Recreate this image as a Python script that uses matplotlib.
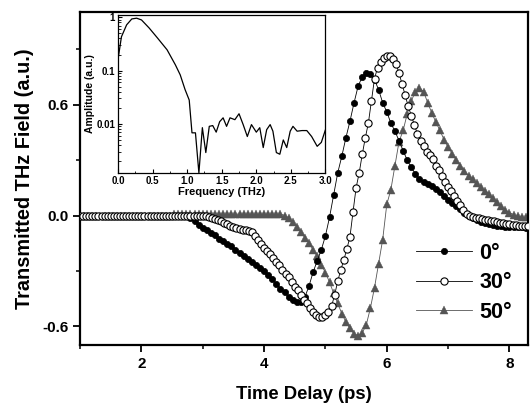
import numpy as np
import matplotlib
matplotlib.use("Agg")
import matplotlib.pyplot as plt
from matplotlib.ticker import MultipleLocator, FixedLocator, NullFormatter, LogLocator

plt.rcParams['font.family'] = ['Liberation Sans', 'DejaVu Sans']
plt.rcParams['font.weight'] = 'bold'

# ---------------- data ----------------
# time grid for 0 deg and 50 deg scans (step 1/15 ps)
t_a = np.round(1.0 + np.arange(110) / 15.0, 4)
# time grid for 30 deg scan (step 0.05 ps)
t_b = np.round(1.0 + np.arange(147) * 0.05, 4)

field_0 = [0.0] * 26 + [
    -0.005, -0.015, -0.03, -0.05, -0.068, -0.08, -0.095, -0.108, -0.125, -0.14,
    -0.152, -0.165, -0.185, -0.2, -0.218, -0.235, -0.25, -0.265, -0.285, -0.30,
    -0.32, -0.345, -0.37, -0.395, -0.415, -0.44, -0.455, -0.465, -0.465, -0.44,
    -0.38, -0.305, -0.245, -0.185, -0.11, -0.01, 0.11, 0.23, 0.32, 0.42,
    0.51, 0.61, 0.70, 0.75, 0.77, 0.765, 0.735, 0.68, 0.61, 0.56,
    0.50, 0.455, 0.405, 0.35, 0.30, 0.26, 0.225, 0.195, 0.18, 0.17,
    0.16, 0.145, 0.125, 0.105, 0.085, 0.065, 0.05, 0.035, 0.015, -0.005,
    -0.015, -0.025, -0.033, -0.04, -0.045, -0.05, -0.055, -0.055, -0.06, -0.06,
    -0.062, -0.063, -0.064, -0.065]

field_30 = [0.0] * 41 + [
    -0.003, -0.008, -0.013, -0.02, -0.025, -0.032, -0.04, -0.048, -0.055, -0.063,
    -0.07, -0.075, -0.078, -0.08, -0.082, -0.09, -0.11, -0.135, -0.155, -0.175,
    -0.19, -0.21, -0.228, -0.25, -0.27, -0.295, -0.315, -0.335, -0.36, -0.385,
    -0.405, -0.43, -0.455, -0.475, -0.5, -0.52, -0.54, -0.55, -0.548, -0.54,
    -0.52, -0.49, -0.43, -0.355, -0.295, -0.24, -0.18, -0.115, 0.02, 0.15,
    0.23, 0.33, 0.42, 0.5, 0.62, 0.74, 0.80, 0.83, 0.85, 0.86,
    0.86, 0.845, 0.82, 0.77, 0.71, 0.65, 0.59, 0.54, 0.49, 0.44,
    0.405, 0.375, 0.345, 0.325, 0.305, 0.27, 0.245, 0.215, 0.18, 0.155,
    0.13, 0.105, 0.08, 0.055, 0.03, 0.01, 0.0, -0.008, -0.012, -0.016,
    -0.02, -0.023, -0.026, -0.028, -0.032, -0.036, -0.04, -0.042, -0.045, -0.048,
    -0.05, -0.052, -0.054, -0.055, -0.056, -0.057]

field_50 = [0.0] * 23 + [0.008] * 27 + [
    0.0, -0.015, -0.035, -0.06, -0.09, -0.12, -0.15, -0.185, -0.22, -0.265,
    -0.31, -0.36, -0.42, -0.475, -0.53, -0.575, -0.61, -0.64, -0.65, -0.635,
    -0.59, -0.5, -0.39, -0.26, -0.13, 0.06, 0.14, 0.27, 0.40, 0.46,
    0.55, 0.62, 0.67, 0.69, 0.67, 0.61, 0.555, 0.505, 0.46, 0.41,
    0.37, 0.335, 0.30, 0.27, 0.24, 0.215, 0.195, 0.175, 0.155, 0.135,
    0.115, 0.095, 0.075, 0.05, 0.03, 0.015, 0.005, -0.005, -0.008, -0.01]

freq_thz = [0.0, 0.05, 0.125, 0.2, 0.27, 0.34, 0.45, 0.57, 0.71, 0.83, 0.9, 0.97,
            1.03, 1.07, 1.12, 1.17, 1.22, 1.27, 1.32, 1.37, 1.42, 1.47, 1.52, 1.57,
            1.62, 1.69, 1.75, 1.81, 1.87, 1.93, 2.0, 2.05, 2.1, 2.15, 2.2, 2.24,
            2.29, 2.34, 2.39, 2.44, 2.49, 2.53, 2.59, 2.66, 2.73, 2.8, 2.88, 2.94, 3.0]
amplitude = [0.16, 0.43, 0.72, 0.93, 0.96, 0.89, 0.63, 0.41, 0.245, 0.128, 0.083, 0.044,
             0.028, 0.0068, 0.0068, 0.0012, 0.0085, 0.0029, 0.009, 0.0093, 0.007, 0.011,
             0.013, 0.009, 0.013, 0.012, 0.0155, 0.0097, 0.0058, 0.0097, 0.007, 0.0085,
             0.0036, 0.0078, 0.0097, 0.0073, 0.0029, 0.0027, 0.005, 0.0036, 0.0073, 0.009,
             0.0073, 0.0075, 0.0075, 0.0058, 0.0038, 0.0045, 0.0078]

labels = ['0°', '30°', '50°']

# ---------------- figure ----------------
fig = plt.figure(figsize=(5.30, 4.03), dpi=100)
ax = fig.add_axes([0.151, 0.144, 0.845, 0.826])

l50, = ax.plot(t_a, field_50, color='#555555', lw=0.6, marker='^', ms=5.4,
               mfc='#555555', mec='#555555', mew=0.3, label=labels[2], zorder=2)
l0, = ax.plot(t_a, field_0, color='black', lw=0.6, marker='o', ms=4.5,
              mfc='black', mec='black', mew=0.5, label=labels[0], zorder=3)
l30, = ax.plot(t_b, field_30, color='black', lw=0.6, marker='o', ms=5.2,
               mfc='white', mec='black', mew=0.8, label=labels[1], zorder=4)

ax.set_xlim(1.0, 8.3)
ax.set_ylim(-0.7, 1.1)
ax.xaxis.set_major_locator(FixedLocator([2, 4, 6, 8]))
ax.xaxis.set_minor_locator(FixedLocator([1, 3, 5, 7]))
ax.yaxis.set_major_locator(FixedLocator([-0.6, 0.0, 0.6]))
ax.yaxis.set_minor_locator(FixedLocator([-0.3, 0.3, 0.9]))
ax.set_yticklabels(['-0.6', '0.0', '0.6'])
ax.tick_params(which='major', direction='out', length=5, width=1.3, labelsize=11)
ax.tick_params(which='minor', direction='out', length=3, width=1.1)
for s in ax.spines.values():
    s.set_linewidth(1.6)
ax.set_xlabel('Time Delay (ps)', fontsize=13.3, fontweight='bold', labelpad=11)
ax.set_ylabel('Transmitted THz Field (a.u.)', fontsize=14.3, fontweight='bold', labelpad=6)

leg = ax.legend([l0, l30, l50], labels, loc='center left', bbox_to_anchor=(0.785, 0.298),
                bbox_transform=fig.transFigure, frameon=False, fontsize=15.5,
                handlelength=2.6, handletextpad=0.35, labelspacing=0.4,
                borderpad=0, borderaxespad=0)
for txt in leg.get_texts():
    txt.set_fontweight('bold')

# ---------------- inset ----------------
ins = fig.add_axes([0.2226, 0.5707, 0.3915, 0.392])
ins.plot(freq_thz, amplitude, color='black', lw=0.9)
ins.set_yscale('log')
ins.set_xlim(0.0, 3.0)
ins.set_ylim(0.0012, 1.1)
ins.set_xticks([0.0, 0.5, 1.0, 1.5, 2.0, 2.5, 3.0])
ins.set_xticklabels(['0.0', '0.5', '1.0', '1.5', '2.0', '2.5', '3.0'])
ins.xaxis.set_minor_locator(MultipleLocator(0.25))
ins.set_yticks([0.01, 0.1, 1])
ins.set_yticklabels(['0.01', '0.1', '1'])
ins.yaxis.set_minor_locator(LogLocator(base=10, subs=np.arange(2, 10)))
ins.yaxis.set_minor_formatter(NullFormatter())
ins.tick_params(which='major', direction='in', length=3, width=0.8, labelsize=7, pad=2)
ins.tick_params(which='minor', direction='in', length=1.8, width=0.6)
for s in ins.spines.values():
    s.set_linewidth(0.9)
ins.set_xlabel('Frequency (THz)', fontsize=8, fontweight='bold', labelpad=1)
ins.set_ylabel('Amplitude (a.u.)', fontsize=7.5, fontweight='bold', labelpad=1)

fig.savefig('out.png', dpi=100)
